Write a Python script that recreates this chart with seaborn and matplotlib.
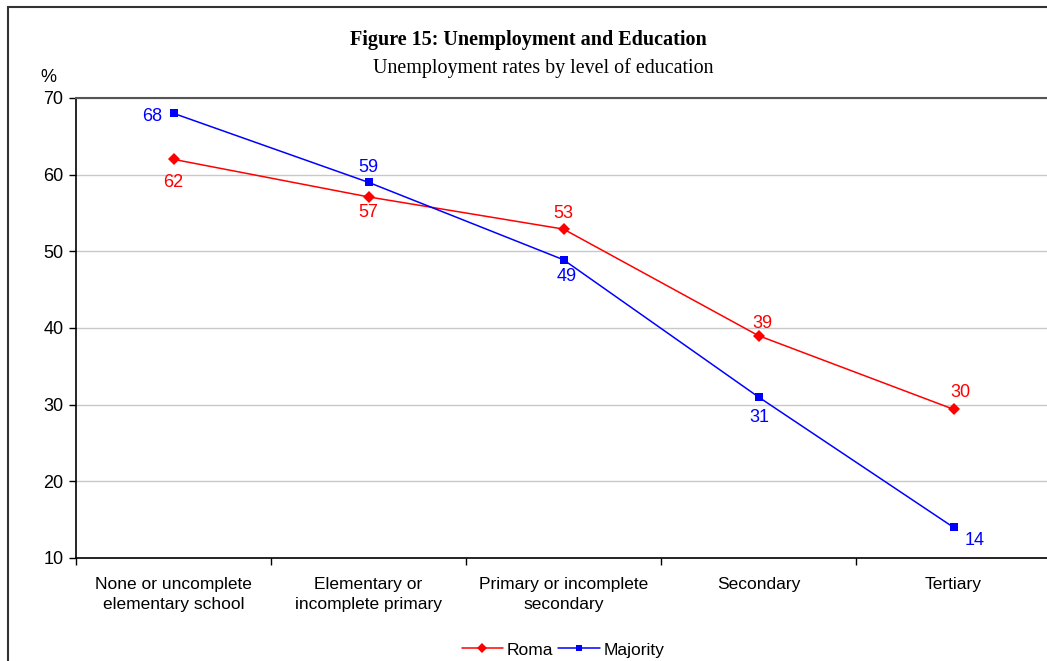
import numpy as np
import pandas as pd
import matplotlib
matplotlib.use("Agg")
import matplotlib.pyplot as plt
import seaborn as sns
from matplotlib.patches import Rectangle

# Veri
categories = ["None or uncomplete\nelementary school", "Elementary or\nincomplete primary",
              "Primary or incomplete\nsecondary", "Secondary", "Tertiary"]
roma = [62.0, 57.1, 52.9, 39.0, 29.4]
majority = [68.0, 59.0, 48.9, 31.0, 14.0]
roma_labels = ["62", "57", "53", "39", "30"]
majority_labels = ["68", "59", "49", "31", "14"]

df = pd.DataFrame({
    "pos": list(range(len(categories))) * 2,
    "value": roma + majority,
    "group": ["Roma"] * len(roma) + ["Majority"] * len(majority),
})

sns.set_style("white")
plt.rcParams["font.family"] = ["Liberation Sans", "DejaVu Sans"]
plt.rcParams["text.color"] = "black"
plt.rcParams["xtick.color"] = "black"
plt.rcParams["ytick.color"] = "black"

fig = plt.figure(figsize=(10.47, 6.61), dpi=100)
ax = fig.add_axes([76 / 1047, 1 - 558 / 661, 975 / 1047, 460 / 661])

# cerceve
fig.patches.append(Rectangle((8 / 1047, -0.1), 1.2, 1 - 7 / 661 + 0.1, transform=fig.transFigure,
                             fill=False, edgecolor="#333333", linewidth=1.5))

sns.lineplot(data=df, x="pos", y="value", hue="group", style="group",
             palette={"Roma": "#ff0000", "Majority": "#0000ff"},
             markers={"Roma": "D", "Majority": "s"}, dashes=False,
             markersize=6, linewidth=1.1, markeredgewidth=0, ax=ax, legend=False)

ax.set_xlim(-0.5, 4.5)
ax.set_ylim(10, 70)
ax.set_yticks(range(10, 71, 10))
ax.yaxis.grid(True, color="#c8c8c8", linewidth=1)
ax.set_axisbelow(True)

ax.set_xticks(np.arange(-0.5, 4.6, 1.0))
ax.set_xticklabels([])
ax.set_xticks(range(len(categories)), minor=True)
ax.set_xticklabels(categories, minor=True, fontsize=12.5, linespacing=1.35)
ax.tick_params(axis="x", which="minor", length=0, pad=14)
ax.tick_params(axis="x", which="major", direction="out", length=5, width=1, color="#000000", bottom=True)
ax.tick_params(axis="y", direction="out", length=5, width=1, color="#000000", left=True, labelsize=13, pad=4)

ax.set_xlabel("")
ax.set_ylabel("")
for s in ["left", "bottom"]:
    ax.spines[s].set_color("#000000")
    ax.spines[s].set_linewidth(1.2)
ax.spines["top"].set_color("#555555")
ax.spines["top"].set_linewidth(1.5)
ax.spines["right"].set_visible(False)

# etiketler (piksel kayma)
roma_off = [(0, -23), (0, -16), (0, 16), (4, 12), (7, 17)]
maj_off = [(-21, -3), (0, 15), (3, -17), (1, -20), (21, -13)]
for i, (v, t) in enumerate(zip(roma, roma_labels)):
    ax.annotate(t, (i, v), xytext=roma_off[i], textcoords="offset pixels",
                ha="center", va="center", color="#ff0000", fontsize=13)
for i, (v, t) in enumerate(zip(majority, majority_labels)):
    ax.annotate(t, (i, v), xytext=maj_off[i], textcoords="offset pixels",
                ha="center", va="center", color="#0000ff", fontsize=13)

fig.text(528 / 1047, 1 - 40 / 661, "Figure 15: Unemployment and Education", ha="center", va="center",
         fontsize=14.5, fontweight="bold", family="Liberation Serif")
fig.text(543 / 1047, 1 - 68 / 661, "Unemployment rates by level of education", ha="center", va="center",
         fontsize=14.4, family="Liberation Serif")
fig.text(48 / 1047, 1 - 77 / 661, "%", ha="center", va="center", fontsize=13)

handles = [plt.Line2D([], [], color="#ff0000", marker="D", markersize=5, markeredgewidth=0, linewidth=1.1),
           plt.Line2D([], [], color="#0000ff", marker="s", markersize=5, markeredgewidth=0, linewidth=1.1)]
fig.legend(handles, ["Roma", "Majority"], loc="center", bbox_to_anchor=(563 / 1047, 1 - 650 / 661),
           ncol=2, frameon=False, fontsize=12.5, handlelength=2.4, handletextpad=0.2, columnspacing=0.3)

fig.savefig("out.png", dpi=100)
